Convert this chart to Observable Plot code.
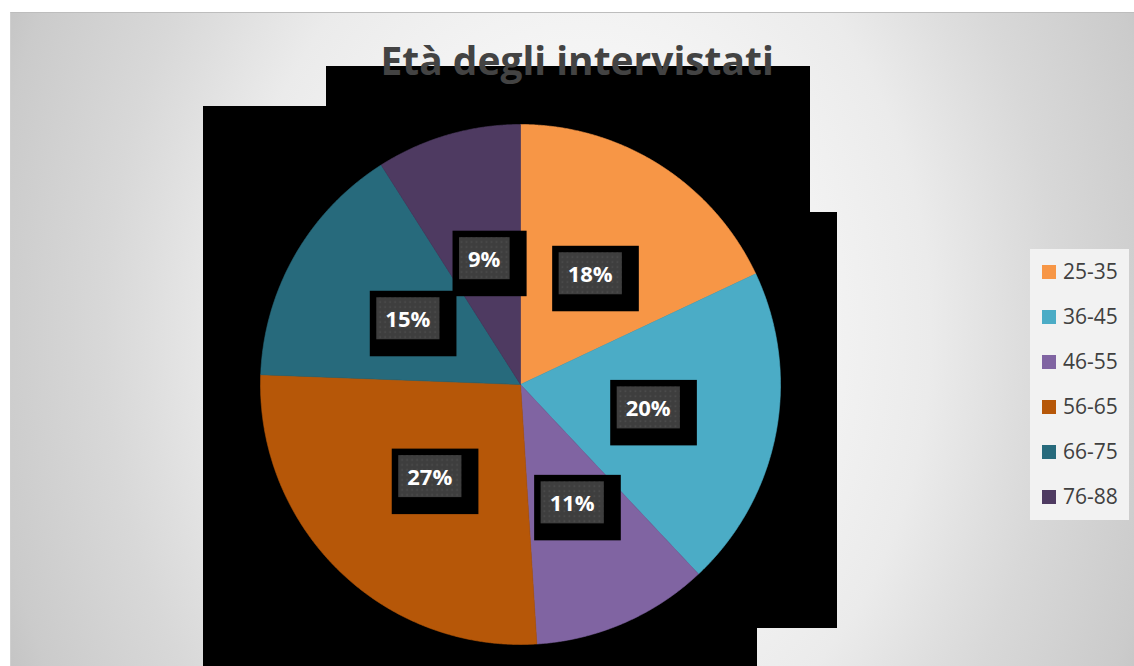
<!DOCTYPE html>
<html>
<head>
<meta charset="utf-8">
<script src="https://cdn.jsdelivr.net/npm/d3@7"></script>
<script src="https://cdn.jsdelivr.net/npm/@observablehq/plot@0.6"></script>
<style>
html, body { margin: 0; padding: 0; background: #ffffff; }
#page { position: relative; width: 1134px; height: 666px; overflow: hidden; font-family: "Open Sans", sans-serif; }
#bg { position: absolute; left: 10px; top: 12px; width: 1124px; height: 654px; box-sizing: border-box;
  border-top: 1px solid #bdbdbd; border-left: 1px solid #cfcfcf;
  background: radial-gradient(ellipse 700px 900px at 570px 318px,
    #fdfdfd 0%, #f4f4f4 32%, #ebebeb 50%, #dedede 62%, #d8d8d8 68%, #cbcbcb 85%, #c4c4c4 90%, #bdbdbd 100%); }
.blk { position: absolute; background: #000; }
#chart { position: absolute; left: 0; top: 0; }
#title { position: absolute; top: 40px; white-space: nowrap; font-family: "Open Sans", sans-serif; font-weight: 700;
  font-size: 40px; line-height: 40px; color: #434343; transform-origin: center center; }
#legend { position: absolute; left: 1030px; top: 249px; width: 99px; height: 271px; background: #f2f2f2; }
.lg-sw { position: absolute; left: 12px; width: 14px; height: 14px; }
.lg-tx { position: absolute; left: 33px; font-size: 21px; line-height: 24px; color: #404040; white-space: nowrap; }
</style>
</head>
<body>
<div id="page">
  <div id="bg"></div>
  <div class="blk" style="left:326px;top:66px;width:484px;height:146px;"></div>
  <div class="blk" style="left:203px;top:106px;width:607px;height:106px;"></div>
  <div class="blk" style="left:203px;top:212px;width:634px;height:416px;"></div>
  <div class="blk" style="left:203px;top:628px;width:554px;height:38px;"></div>
  <div id="chart"></div>
  <div id="legend"></div>
  <div id="title"></div>
</div>
<script>
// ---- data ----
const categories = ["25-35", "36-45", "46-55", "56-65", "66-75", "76-88"];
const values = [18, 20, 11, 26.6, 15.4, 9];
const colors = ["#F79646", "#4BACC6", "#8064A2", "#B65708", "#276A7C", "#4E3A61"];
const titleText = "Età degli intervistati";

// ---- build slice polygons (angles clockwise from 12 o'clock) ----
const total = d3.sum(values);
const slicePts = [];
const labels = [];
let acc = 0;
categories.forEach((cat, i) => {
  const a0 = acc / total * 2 * Math.PI;
  acc += values[i];
  const a1 = acc / total * 2 * Math.PI;
  const n = Math.max(2, Math.ceil((a1 - a0) / (Math.PI / 720)));
  slicePts.push({key: cat, x: 0, y: 0});
  for (let k = 0; k <= n; k++) {
    const a = a0 + (a1 - a0) * k / n;
    slicePts.push({key: cat, x: Math.sin(a), y: Math.cos(a)});
  }
  slicePts.push({key: cat, x: 0, y: 0});
  const am = (a0 + a1) / 2;
  labels.push({key: cat, x: 0.5 * Math.sin(am), y: 0.5 * Math.cos(am), text: Math.round(values[i] / total * 100) + "%"});
});

const svg = Plot.plot({
  width: 1134,
  height: 666,
  marginLeft: 260,
  marginRight: 354,
  marginTop: 124,
  marginBottom: 22,
  x: {domain: [-1, 1], axis: null},
  y: {domain: [-1, 1], axis: null},
  color: {domain: categories, range: colors},
  style: {background: "transparent", overflow: "visible", fontFamily: "Open Sans"},
  marks: [
    Plot.line(slicePts, {x: "x", y: "y", z: "key", fill: "key", stroke: "key", strokeWidth: 0.6, curve: "linear"}),
    Plot.text(labels, {x: "x", y: "y", text: "text", fill: "white", fontWeight: "bold", fontSize: 22,
      fontFamily: "Open Sans"})
  ]
});
document.getElementById("chart").appendChild(svg);

// ---- patterned label boxes ----
const NS = "http://www.w3.org/2000/svg";
const defs = document.createElementNS(NS, "defs");
defs.innerHTML = '<pattern id="dots" width="5" height="5" patternUnits="userSpaceOnUse">' +
  '<rect width="5" height="5" fill="#3e3e3e"/><rect x="1.5" y="1.5" width="1.6" height="1.6" fill="#4e4e4e"/></pattern>';
svg.insertBefore(defs, svg.firstChild);
const labelTexts = new Set(labels.map(d => d.text));
Array.from(svg.querySelectorAll("text")).filter(t => labelTexts.has(t.textContent.trim())).forEach(t => {
  const bb = t.getBBox();
  const tr = t.getAttribute("transform") || "";
  const w = bb.width + 18;
  const cx = bb.x + bb.width / 2;
  const cy = bb.y + bb.height / 2 + 0.5;
  const ix = cx - w / 2, iy = cy - 21;
  const outer = document.createElementNS(NS, "rect");
  outer.setAttribute("x", ix - 6.5); outer.setAttribute("y", iy - 6.5);
  outer.setAttribute("width", w + 23.5); outer.setAttribute("height", 42 + 23.5);
  outer.setAttribute("fill", "#000"); if (tr) outer.setAttribute("transform", tr);
  const inner = document.createElementNS(NS, "rect");
  inner.setAttribute("x", ix); inner.setAttribute("y", iy);
  inner.setAttribute("width", w); inner.setAttribute("height", 42);
  inner.setAttribute("fill", "url(#dots)"); if (tr) inner.setAttribute("transform", tr);
  t.parentNode.insertBefore(outer, t);
  t.parentNode.insertBefore(inner, t);
});

// ---- legend ----
const legend = document.getElementById("legend");
categories.forEach((cat, i) => {
  const cy = 272 + 45 * i - 249;
  const sw = document.createElement("div");
  sw.className = "lg-sw"; sw.style.top = (cy - 7) + "px"; sw.style.background = colors[i];
  const tx = document.createElement("div");
  tx.className = "lg-tx"; tx.style.top = (cy - 13) + "px"; tx.textContent = cat;
  legend.appendChild(sw); legend.appendChild(tx);
});

// ---- title ----
const title = document.getElementById("title");
title.textContent = titleText;
const tw = title.offsetWidth;
title.style.left = (576.5 - tw / 2) + "px";
title.style.transform = "scaleX(" + (393 / tw) + ")";
</script>
</body>
</html>
